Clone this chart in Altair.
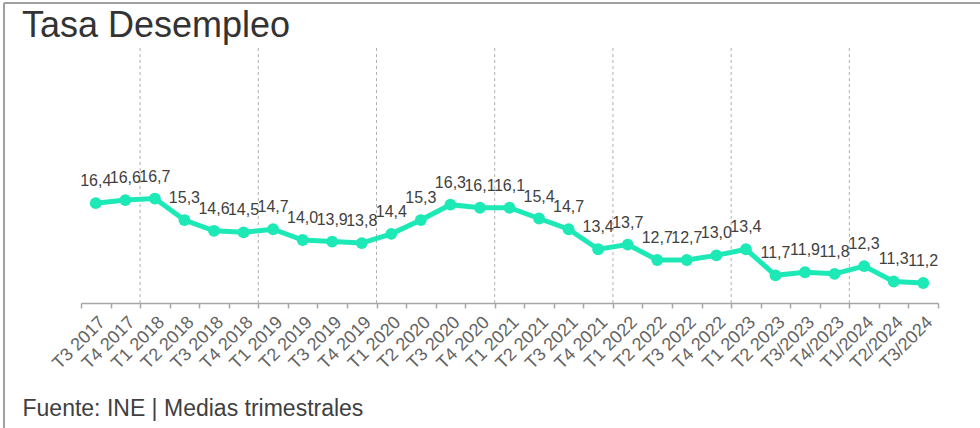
import altair as alt
import pandas as pd

categories = ["T3 2017", "T4 2017", "T1 2018", "T2 2018", "T3 2018", "T4 2018",
              "T1 2019", "T2 2019", "T3 2019", "T4 2019", "T1 2020", "T2 2020",
              "T3 2020", "T4 2020", "T1 2021", "T2 2021", "T3 2021", "T4 2021",
              "T1 2022", "T2 2022", "T3 2022", "T4 2022", "T1 2023", "T2 2023",
              "T3/2023", "T4/2023", "T1/2024", "T2/2024", "T3/2024"]
values = [16.4, 16.6, 16.7, 15.3, 14.6, 14.5, 14.7, 14.0, 13.9, 13.8, 14.4, 15.3,
          16.3, 16.1, 16.1, 15.4, 14.7, 13.4, 13.7, 12.7, 12.7, 13.0, 13.4, 11.7,
          11.9, 11.8, 12.3, 11.3, 11.2]
year_starts = ["T1 2018", "T1 2019", "T1 2020", "T1 2021", "T1 2022", "T1 2023", "T1/2024"]

df = pd.DataFrame({"trimestre": categories, "tasa": values})
df["etiqueta"] = [f"{v:.1f}".replace(".", ",") for v in values]
grid_df = pd.DataFrame({"trimestre": year_starts})

W, H = 857, 255
LEFT, TOP = 81, 48

xscale = alt.Scale(type="band", domain=categories, paddingInner=0, paddingOuter=0)
yscale = alt.Scale(domain=[9.9, 26.5], nice=False, zero=False)

x_axis = alt.Axis(
    title="Fuente: INE | Medias trimestrales",
    titleX=22 - LEFT, titleY=415 - (TOP + H), titleAlign="left", titleBaseline="alphabetic",
    titleAnchor="start",
    titleFont="Liberation Sans", titleFontSize=23, titleFontWeight="normal", titleColor="#404040",
    labelAngle=-45, labelAlign="right", labelBaseline="top", labelPadding=5,
    labelFont="Liberation Sans", labelFontSize=18, labelColor="#636363",
    tickBand="extent", tickSize=5, tickColor="#a6a6a6", domainColor="#a6a6a6",
    domainWidth=1.5, tickWidth=1.5, grid=False, labelOverlap=False,
)

base = alt.Chart(df)

grid = alt.Chart(grid_df).mark_rule(color="#b0b0b0", strokeDash=[3, 3], strokeWidth=1).encode(
    x=alt.X("trimestre:N", scale=xscale, bandPosition=0, axis=x_axis),
    y=alt.value(0), y2=alt.value(H),
)

line = base.mark_line(color="#1de9b6", strokeWidth=5).encode(
    x=alt.X("trimestre:N", scale=xscale, sort=categories, bandPosition=0.5, axis=x_axis),
    y=alt.Y("tasa:Q", scale=yscale, axis=None),
)

points = base.mark_point(filled=True, color="#1de9b6", size=140, opacity=1).encode(
    x=alt.X("trimestre:N", scale=xscale, sort=categories, bandPosition=0.5, axis=x_axis),
    y=alt.Y("tasa:Q", scale=yscale, axis=None),
)

labels = base.mark_text(dy=-17, baseline="alphabetic", align="center",
                        font="Liberation Sans", fontSize=16, color="#404040").encode(
    x=alt.X("trimestre:N", scale=xscale, sort=categories, bandPosition=0.5, axis=x_axis),
    y=alt.Y("tasa:Q", scale=yscale, axis=None),
    text="etiqueta:N",
)

border_left = alt.Chart(grid_df).mark_rule(color="#a0a0a0", strokeWidth=1.5).encode(
    x=alt.value(4 - LEFT), y=alt.value(3 - TOP), y2=alt.value(428 - TOP),
)
border_top = alt.Chart(grid_df).mark_rule(color="#a0a0a0", strokeWidth=1.5).encode(
    x=alt.value(4 - LEFT), x2=alt.value(980 - LEFT), y=alt.value(3 - TOP),
)

chart = alt.layer(grid, line, points, labels, border_left, border_top).properties(
    width=W, height=H,
    title=alt.TitleParams(
        text="Tasa Desempleo", anchor="start", frame="group", orient="top",
        font="Liberation Sans", fontSize=36, fontWeight="normal", color="#333333",
        dx=22 - LEFT, offset=0, baseline="alphabetic", dy=71,
    ),
    autosize=alt.AutoSizeParams(type="none"),
    padding={"left": LEFT, "top": TOP, "right": 980 - LEFT - W, "bottom": 428 - TOP - H},
    background="white",
).configure_view(stroke=None)

chart.save("out.html", embed_options={"renderer": "svg", "actions": False})
